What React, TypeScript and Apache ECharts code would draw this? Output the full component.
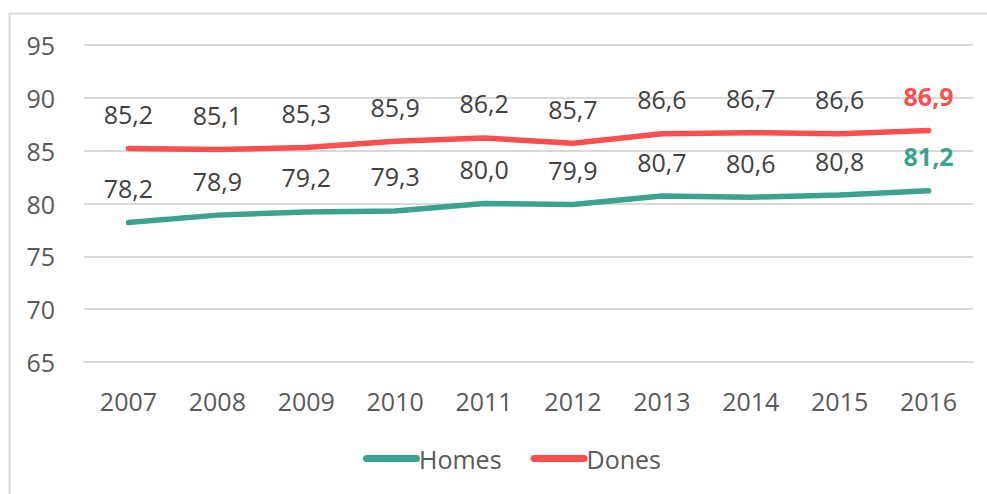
import React, { useEffect, useRef } from "react";
import * as echarts from "echarts";

const years = ["2007", "2008", "2009", "2010", "2011", "2012", "2013", "2014", "2015", "2016"];
const homes = [78.2, 78.9, 79.2, 79.3, 80.0, 79.9, 80.7, 80.6, 80.8, 81.2];
const dones = [85.2, 85.1, 85.3, 85.9, 86.2, 85.7, 86.6, 86.7, 86.6, 86.9];
const yTicks = { min: 65, max: 95, interval: 5 };

const TEAL = "#3aa28f";
const RED = "#fb4f4f";
const FONT = "'Open Sans', sans-serif";

const fmt = (v: number) => v.toFixed(1).replace(".", ",");

function makeData(values: number[], color: string) {
  return values.map((v, i) =>
    i === values.length - 1
      ? { value: v, label: { color, fontWeight: "bold" as const } }
      : { value: v }
  );
}

export default function App() {
  const ref = useRef<HTMLDivElement>(null);
  useEffect(() => {
    if (!ref.current) return;
    const chart = echarts.init(ref.current, null, { renderer: "svg" });
    const labelBase = {
      show: true,
      position: "top" as const,
      distance: 21,
      fontFamily: FONT,
      fontSize: 25,
      color: "#404040",
      opacity: 1,
      formatter: (p: any) => fmt(p.value),
    };
    const mkSeries = (name: string, values: number[], color: string) => ({
      name,
      type: "line",
      data: makeData(values, color),
      color,
      symbol: "circle",
      symbolSize: 2,
      showSymbol: true,
      itemStyle: { color, opacity: 0 },
      lineStyle: { width: 5.5, color, cap: "round", join: "round" },
      label: labelBase,
      labelLayout: { hideOverlap: false },
      z: 3,
    });
    chart.setOption({
      animation: false,
      backgroundColor: "#ffffff",
      graphic: [
        {
          type: "rect",
          shape: { x: 9.5, y: 13.5, width: 1000, height: 500 },
          style: { fill: "none", stroke: "#d9d9d9", lineWidth: 2 },
          silent: true,
        },
      ],
      grid: { left: 84, right: 14, top: 45, bottom: 132 },
      legend: {
        left: 358,
        top: 441,
        itemWidth: 57,
        itemHeight: 7,
        itemGap: 29,
        icon: "path://M3.5,0 H53.5 A3.5,3.5 0 0 1 53.5,7 H3.5 A3.5,3.5 0 0 1 3.5,0 Z",
        itemStyle: { opacity: 1, borderWidth: 0 },
        textStyle: { fontFamily: FONT, fontSize: 25, color: "#595959", padding: [0, 0, 0, -6] },
        data: [
          { name: "Homes", itemStyle: { color: TEAL, opacity: 1 } },
          { name: "Dones", itemStyle: { color: RED, opacity: 1 } },
        ],
      },
      xAxis: {
        type: "category",
        data: years,
        boundaryGap: true,
        axisLine: { show: true, lineStyle: { color: "#d9d9d9", width: 2 } },
        axisTick: { show: false },
        axisLabel: { fontFamily: FONT, fontSize: 25, color: "#595959", margin: 26 },
      },
      yAxis: {
        type: "value",
        min: yTicks.min,
        max: yTicks.max,
        interval: yTicks.interval,
        axisLine: { show: false },
        axisTick: { show: false },
        splitLine: { lineStyle: { color: "#d9d9d9", width: 2 } },
        axisLabel: { fontFamily: FONT, fontSize: 25, color: "#595959", margin: 29 },
      },
      series: [mkSeries("Homes", homes, TEAL), mkSeries("Dones", dones, RED)],
    });
    return () => chart.dispose();
  }, []);
  return (
    <div
      ref={ref}
      style={{ position: "fixed", left: 0, top: 0, width: 987, height: 494 }}
    />
  );
}
